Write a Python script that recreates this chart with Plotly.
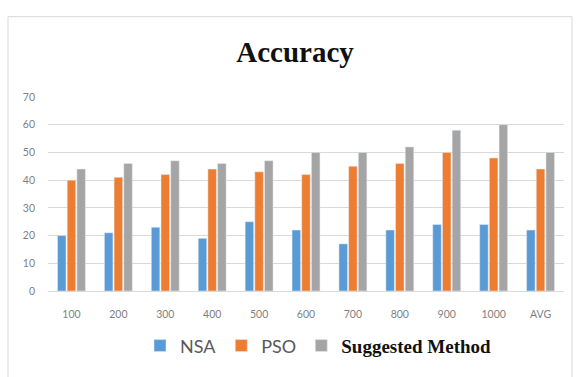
import plotly.graph_objects as go

categories = ["100", "200", "300", "400", "500", "600", "700", "800", "900", "1000", "AVG"]
nsa = [20, 21, 23, 19, 25, 22, 17, 22, 24, 24, 22]
pso = [40, 41, 42, 44, 43, 42, 45, 46, 50, 48, 44]
suggested = [44, 46, 47, 46, 47, 50, 50, 52, 58, 60, 50]
y_ticks = [0, 10, 20, 30, 40, 50, 60, 70]

fig = go.Figure()
fig.add_trace(go.Bar(x=categories, y=nsa, name="NSA", marker_color="#5B9BD5"))
fig.add_trace(go.Bar(x=categories, y=pso, name="PSO", marker_color="#ED7D31"))
fig.add_trace(go.Bar(
    x=categories, y=suggested,
    name='<span style="font-family:\'Liberation Serif\'; font-weight:bold; font-size:19px; color:#111">Suggested Method</span>',
    marker_color="#A5A5A5"))

fig.update_layout(
    width=579, height=377,
    margin=dict(l=48, r=15, t=97, b=82),
    paper_bgcolor="white", plot_bgcolor="white",
    barmode="group", bargap=0.38, bargroupgap=0.12,
    font=dict(family="Lato, 'Liberation Sans', sans-serif", color="#7F7F7F", size=10),
    title=dict(
        text="<b>Accuracy</b>",
        font=dict(family="'Liberation Serif', serif", size=29, color="#111111"),
        x=0.5095, xref="container", xanchor="center",
        y=1 - 52 / 377, yref="container", yanchor="middle",
    ),
    showlegend=True,
    legend=dict(
        orientation="h",
        x=(140 - 48) / 516, xanchor="left",
        y=-0.283, yanchor="middle",
        font=dict(family="Lato, 'Liberation Sans', sans-serif", size=18, color="#595959"),
        itemwidth=30,
        traceorder="normal",
    ),
    xaxis=dict(
        showgrid=False, showline=False, zeroline=False,
        ticks="", ticklabelstandoff=15,
        tickfont=dict(size=10.5, color="#7F7F7F"),
    ),
    yaxis=dict(
        range=[0, 70], tickvals=y_ticks,
        showgrid=True, gridcolor="#D9D9D9", gridwidth=1,
        zeroline=True, zerolinecolor="#D9D9D9", zerolinewidth=1,
        showline=False, ticks="", ticklabelstandoff=12,
        tickfont=dict(size=10.5, color="#7F7F7F"),
    ),
    shapes=[dict(
        type="rect", xref="paper", yref="paper",
        x0=-0.0775, x1=1.0155, y0=-0.45, y1=1.414,
        line=dict(color="#D9D9D9", width=1), fillcolor="rgba(0,0,0,0)",
        layer="below",
    )],
)

fig.write_html("out.html")
